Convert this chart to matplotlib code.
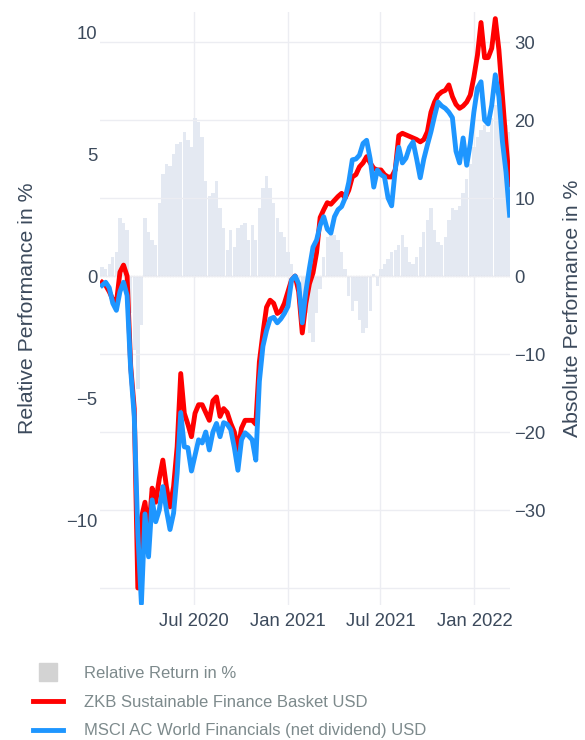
import matplotlib
matplotlib.use("Agg")
import matplotlib.pyplot as plt
from matplotlib.lines import Line2D
import pandas as pd

plt.rcParams["font.family"] = ["Liberation Sans", "DejaVu Sans"]

# weekly observations, Jan 2020 - Mar 2022
dates = pd.date_range("2020-01-03", periods=115, freq="7D")

# relative return in % (left axis, bars)
relative = [
    0.4, 0.3, 0.5, 0.8, 1.0, 2.4, 2.2, 1.9, -1.5, -3.0,
    -4.6, -2.0, 2.4, 1.8, 1.5, 1.3, 3.0, 4.2, 4.6, 4.5,
    5.0, 5.4, 5.5, 5.9, 5.6, 5.3, 6.5, 6.3, 5.7, 3.9,
    3.3, 3.4, 3.9, 2.8, 2.0, 1.1, 1.9, 1.2, 2.0, 2.1,
    2.2, 1.5, 2.1, 1.5, 2.8, 3.6, 4.1, 3.6, 3.0, 2.4,
    1.8, 1.6, 1.0, 0.5, 0.1, -0.5, -0.9, -1.5, -2.3, -2.7,
    -1.5, -0.5, 0.8, 1.6, 1.9, 1.7, 1.5, 1.0, 0.3, -0.8,
    -1.4, -1.0, -1.8, -2.3, -2.1, -1.4, 0.1, -0.4, 0.3, 0.5,
    0.7, 1.0, 1.1, 1.3, 1.7, 1.2, 0.6, 0.5, 0.8, 1.2,
    1.8, 2.3, 2.8, 1.9, 1.4, 1.3, 1.6, 2.3, 2.8, 2.7,
    2.9, 3.4, 4.0, 4.6, 5.3, 5.7, 6.0, 6.2, 5.9, 6.5,
    7.0, 7.2, 6.6, 6.2, 5.9,
]

# absolute performance in % (right axis, lines)
zkb_basket = [
    -0.8, -1.2, -2.0, -3.0, -3.5, 0.5, 1.4, 0.0, -11.5, -17.0,
    -40.0, -31.0, -29.0, -33.0, -27.2, -29.0, -26.0, -23.6, -27.0, -29.6,
    -27.0, -21.9, -12.5, -17.6, -19.0, -20.6, -17.6, -16.5, -16.5, -17.5,
    -18.5, -16.0, -15.5, -18.0, -17.0, -17.5, -18.9, -20.0, -22.3, -19.5,
    -18.5, -18.5, -18.5, -19.0, -11.0, -7.3, -4.0, -3.1, -3.5, -4.8,
    -4.5, -3.5, -2.0, -0.5, 0.0, -2.0, -7.3, -3.5, -1.0, 0.4,
    3.0, 7.5, 8.5, 9.4, 9.2, 9.7, 10.2, 10.6, 10.0, 11.0,
    12.7, 13.0, 14.0, 14.5, 15.3, 14.5, 13.8, 13.6, 13.6, 13.0,
    12.7, 12.7, 13.6, 18.0, 18.3, 18.1, 17.9, 17.7, 17.5, 17.2,
    17.5, 18.5, 21.0, 22.3, 23.2, 23.6, 23.8, 24.5, 23.0, 22.0,
    21.5, 21.8, 22.3, 23.2, 25.5, 28.3, 32.5, 28.0, 28.0, 29.2,
    33.0, 29.0, 23.0, 17.0, 11.7,
]
msci_financials = [
    -1.2, -0.8, -1.5, -3.5, -4.4, -2.0, -0.8, -2.5, -12.0, -18.0,
    -33.0, -42.0, -30.5, -36.0, -28.7, -31.5, -30.0, -27.0, -30.0, -32.5,
    -30.4, -25.3, -17.5, -21.9, -22.0, -25.0, -23.0, -21.0, -21.4, -20.0,
    -22.3, -20.0, -18.9, -20.6, -18.8, -19.0, -19.7, -22.0, -24.9, -21.0,
    -20.1, -20.5, -21.0, -23.6, -13.5, -9.0, -7.0, -5.5, -5.3, -6.0,
    -5.5, -4.8, -3.9, -0.5, 0.0, -1.0, -6.0, -2.0, 1.0, 3.7,
    4.6, 6.5, 7.6, 6.0, 5.5, 7.6, 8.5, 8.9, 10.0, 12.0,
    14.9, 15.0, 15.5, 17.0, 17.4, 15.0, 11.4, 13.6, 13.0, 12.7,
    10.0, 9.0, 13.6, 16.5, 14.5, 15.1, 16.5, 17.2, 15.0, 12.6,
    15.0, 16.8, 18.5, 20.5, 22.3, 21.8, 21.5, 21.0, 20.3, 16.0,
    14.5, 17.7, 14.2, 17.0, 21.0, 24.1, 24.9, 20.0, 19.5, 21.9,
    25.8, 23.0, 17.2, 13.3, 7.8,
]

tick_dates = pd.to_datetime(["2020-07-01", "2021-01-01", "2021-07-01", "2022-01-01"])
tick_labels = ["Jul 2020", "Jan 2021", "Jul 2021", "Jan 2022"]

tick_color = "#3c4a5c"
grid_color = "#ecedf2"

fig = plt.figure(figsize=(5.85, 7.4), dpi=100)
ax = fig.add_axes([0.171, 0.1824, 0.701, 0.8014])
ax2 = ax.twinx()

ax.bar(dates, relative, width=6.6, color="#e4e9f2", linewidth=0, zorder=2)
ax.axhline(0, color="#8c8c8c", lw=0.8, ls=(0, (1, 1.5)), zorder=3)
for d in tick_dates:
    ax.axvline(d, color=grid_color, lw=1, zorder=1)

ax2.plot(dates, zkb_basket, color="#ff0000", lw=3.5, solid_joinstyle="round")
ax2.plot(dates, msci_financials, color="#1e96ff", lw=3.5, solid_joinstyle="round")

ax.set_xlim(pd.Timestamp("2019-12-30"), pd.Timestamp("2022-03-12"))
ax.set_ylim(-13.44, 10.82)
ax2.set_ylim(-42.18, 33.85)

ax.set_xticks(tick_dates)
ax.set_xticklabels(tick_labels)
ax.set_yticks([-10, -5, 0, 5, 10])
ax2.set_yticks([-40, -30, -20, -10, 0, 10, 20, 30])
ax2.set_yticklabels(["", "\u221230", "\u221220", "\u221210", "0", "10", "20", "30"])
ax2.grid(axis="y", color=grid_color, lw=1)
ax2.set_axisbelow(True)

for a in (ax, ax2):
    for s in a.spines.values():
        s.set_visible(False)
    a.tick_params(length=0, labelsize=13.3, labelcolor=tick_color)
ax.tick_params(axis="x", pad=6)
ax.tick_params(axis="y", pad=2)
ax2.tick_params(axis="y", pad=3)

ax.set_ylabel("Relative Performance in %", fontsize=15.3, color=tick_color)
ax2.set_ylabel("Absolute Performance in %", fontsize=15.3, color=tick_color)
ax.yaxis.set_label_coords(-0.154, 0.5)
ax2.yaxis.set_label_coords(1.129, 0.5)

handles = [
    Line2D([], [], marker="s", markersize=13, color="#d3d3d3", linestyle="none"),
    Line2D([], [], color="#ff0000", lw=3.5),
    Line2D([], [], color="#1e96ff", lw=3.5),
]
labels = [
    "Relative Return in %",
    "ZKB Sustainable Finance Basket USD",
    "MSCI AC World Financials (net dividend) USD",
]
fig.legend(handles, labels, loc="upper left", bbox_to_anchor=(33 / 585, 1 - 666 / 740),
           frameon=False, fontsize=12, labelcolor="#7d8a8c", borderpad=0,
           borderaxespad=0, handlelength=1.8, handletextpad=1.25, labelspacing=0.82)

fig.savefig("out.png", dpi=100)
